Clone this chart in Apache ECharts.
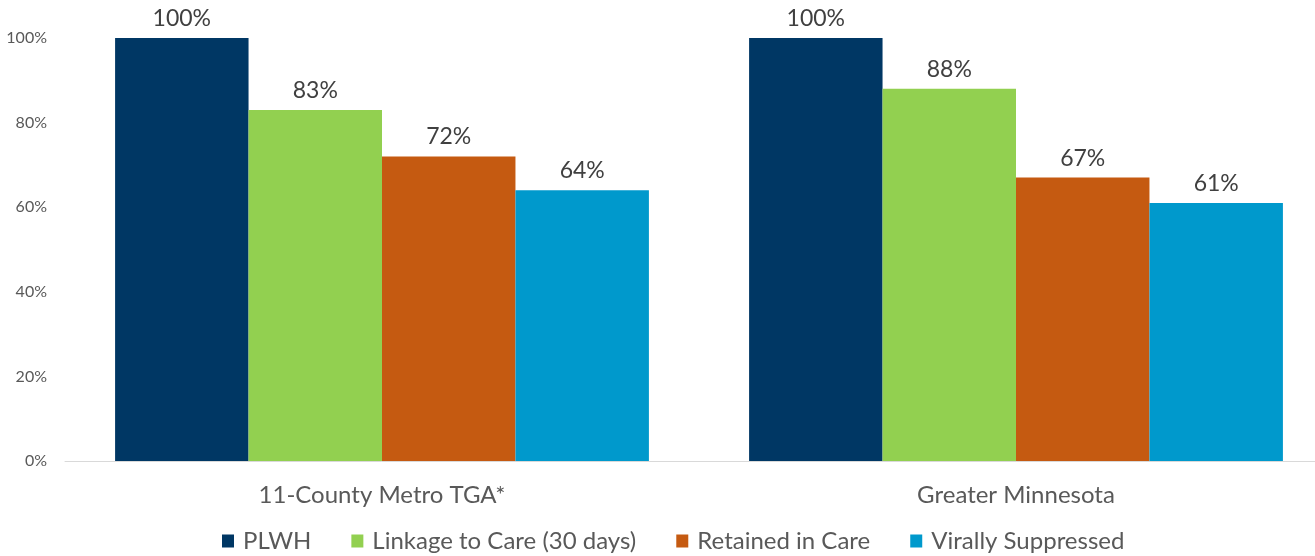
<!DOCTYPE html>
<html><head><meta charset="utf-8">
<script src="https://cdn.jsdelivr.net/npm/echarts@6/dist/echarts.min.js"></script>
<style>html,body{margin:0;padding:0;background:#fff;overflow:hidden}#c{width:1333px;height:556px}</style>
</head><body><div id="c"></div>
<script>
const categories = ['11-County Metro TGA*', 'Greater Minnesota'];
const seriesNames = ['PLWH', 'Linkage to Care (30 days)', 'Retained in Care', 'Virally Suppressed'];
const plwh = [100, 100];
const linkage = [83, 88];
const retained = [72, 67];
const suppressed = [64, 61];
const yTicks = [0, 20, 40, 60, 80, 100];
const colors = ['#003764', '#92D050', '#C55A11', '#0099CC'];
const values = [plwh, linkage, retained, suppressed];

const chart = echarts.init(document.getElementById('c'), null, {renderer: 'canvas'});
const font = 'Lato, "Open Sans", sans-serif';
chart.setOption({
  animation: false,
  textStyle: {fontFamily: font},
  grid: {left: 65, top: 38, right: 0, height: 423, containLabel: false},
  legend: {
    top: 528, left: 222, padding: 0, itemWidth: 12, itemHeight: 13, itemGap: 40,
    icon: 'rect',
    textStyle: {fontSize: 24, lineHeight: 26, color: '#595959', fontFamily: font, padding: [0, 0, 0, 4]},
    data: seriesNames
  },
  xAxis: {
    type: 'category', data: categories,
    axisLine: {lineStyle: {color: '#D9D9D9', width: 1}},
    axisTick: {show: false},
    axisLabel: {fontSize: 24, color: '#595959', margin: 22, fontFamily: font}
  },
  yAxis: {
    type: 'value', min: 0, max: 100, interval: 20,
    axisLabel: {formatter: v => yTicks.includes(v) ? v + '%' : '', fontSize: 16, color: '#595959', margin: 18, fontFamily: font},
    splitLine: {show: false}, axisLine: {show: false}, axisTick: {show: false}
  },
  series: seriesNames.map((n, i) => ({
    name: n, type: 'bar', data: values[i], barGap: '0%', barCategoryGap: '15.8%',
    itemStyle: {color: colors[i]},
    label: {show: true, position: 'top', distance: 8, formatter: p => p.value + '%', fontSize: 23, color: '#404040', fontFamily: font}
  }))
});
</script></body></html>
